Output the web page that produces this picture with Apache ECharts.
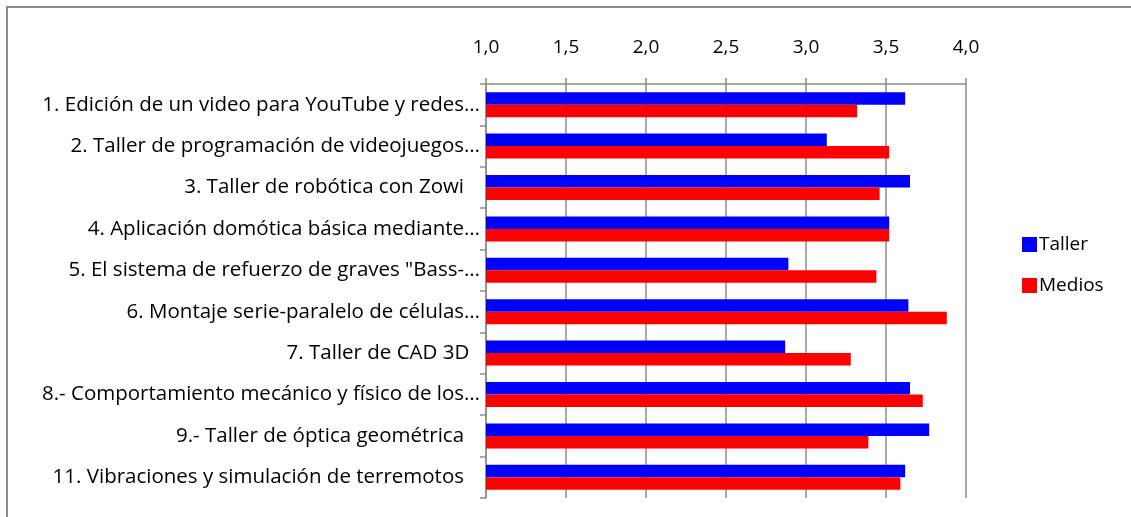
<!DOCTYPE html>
<html>
<head>
<meta charset="utf-8">
<script src="https://cdn.jsdelivr.net/npm/echarts@6/dist/echarts.min.js"></script>
<style>
  html, body { margin: 0; padding: 0; background: #fff; }
  #chart { width: 1131px; height: 517px; }
</style>
</head>
<body>
<div id="chart"></div>
<script>
// workshop names, top to bottom
var categories = [
  '1. Edición de un video para YouTube y redes…',
  '2. Taller de programación de videojuegos…',
  '3. Taller de robótica con Zowi   ',
  '4. Aplicación domótica básica mediante…',
  '5. El sistema de refuerzo de graves "Bass-…',
  '6. Montaje serie-paralelo de células…',
  '7. Taller de CAD 3D  ',
  '8.- Comportamiento mecánico y físico de los…',
  '9.- Taller de óptica geométrica   ',
  '11. Vibraciones y simulación de terremotos   '
];
var taller = [3.62, 3.13, 3.65, 3.52, 2.89, 3.64, 2.87, 3.65, 3.77, 3.62];
var medios = [3.32, 3.52, 3.46, 3.52, 3.44, 3.88, 3.28, 3.73, 3.39, 3.59];
var xTicks = [1.0, 1.5, 2.0, 2.5, 3.0, 3.5, 4.0];

var font = '"Open Sans", "Noto Sans", sans-serif';
var chart = echarts.init(document.getElementById('chart'));

chart.setOption({
  animation: false,
  textStyle: { fontFamily: font },
  graphic: [{
    type: 'rect',
    shape: { x: 7, y: 7, width: 1140, height: 530 },
    style: { fill: 'none', stroke: '#8c8c8c', lineWidth: 2 },
    silent: true
  }],
  legend: {
    orient: 'vertical',
    left: 1017,
    top: 230,
    icon: 'rect',
    itemWidth: 15,
    itemHeight: 15,
    itemGap: 22,
    textStyle: { fontSize: 19, color: '#000', fontFamily: font, padding: [0, 0, 0, -3] },
    data: ['Taller', 'Medios']
  },
  grid: { left: 486, right: 165, top: 84, bottom: 19 },
  xAxis: {
    type: 'value',
    position: 'top',
    min: xTicks[0],
    max: xTicks[xTicks.length - 1],
    interval: 0.5,
    axisLine: { show: true, lineStyle: { color: '#8c8c8c', width: 1.5 } },
    axisTick: { show: true, length: 6, lineStyle: { color: '#8c8c8c', width: 1.5 } },
    splitLine: { show: true, lineStyle: { color: '#8c8c8c', width: 1.5 } },
    axisLabel: {
      margin: 27,
      fontSize: 19,
      color: '#000',
      formatter: function (v) { return v.toFixed(1).replace('.', ','); }
    }
  },
  yAxis: {
    type: 'category',
    inverse: true,
    data: categories,
    axisLine: { show: true, lineStyle: { color: '#8c8c8c', width: 1.5 } },
    axisTick: { show: true, length: 6, lineStyle: { color: '#8c8c8c', width: 1.5 } },
    axisLabel: { margin: 6, fontSize: 20.5, color: '#000' }
  },
  series: [
    {
      name: 'Taller',
      type: 'bar',
      barWidth: 12.5,
      barGap: '0%',
      itemStyle: { color: '#0000ff' },
      data: taller
    },
    {
      name: 'Medios',
      type: 'bar',
      barWidth: 12.5,
      barGap: '0%',
      itemStyle: { color: '#ff0000' },
      data: medios
    }
  ]
});
</script>
</body>
</html>
